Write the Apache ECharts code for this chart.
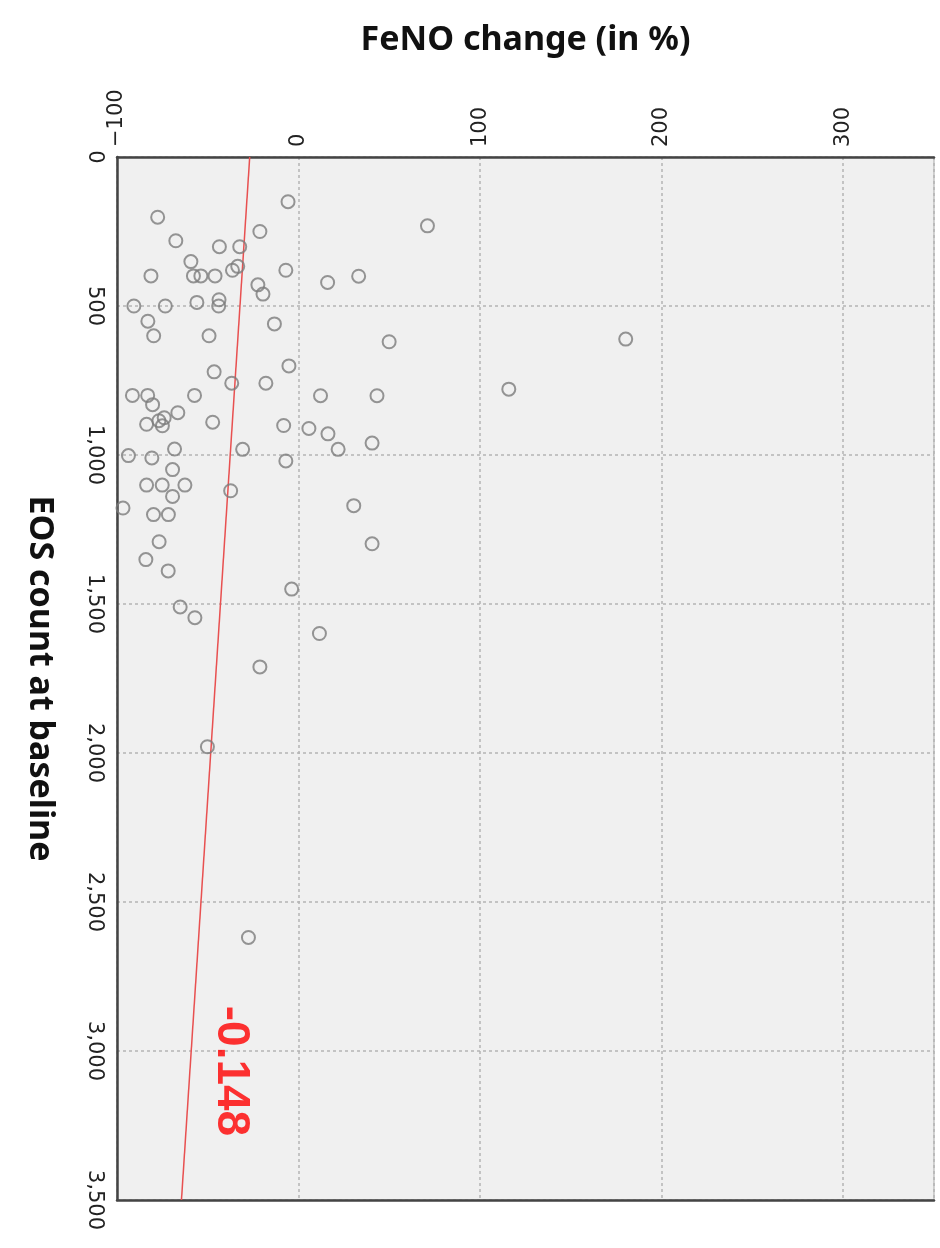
<!DOCTYPE html>
<html>
<head>
<meta charset="utf-8">
<script src="https://cdn.jsdelivr.net/npm/echarts@6/dist/echarts.min.js"></script>
<style>
  html, body { margin: 0; padding: 0; background: #ffffff; }
  #chart { width: 940px; height: 1248px; }
</style>
</head>
<body>
<div id="chart"></div>
<script>
// Baseline eosinophil count per patient (cells/µL)
const eosCount = [150, 202, 281, 250, 301, 301, 351, 399, 399, 399,
  399, 380, 367, 380, 421, 400, 231, 429, 460, 500,
  500, 488, 479, 500, 551, 600, 600, 560, 620, 611,
  721, 701, 759, 759, 800, 800, 831, 800, 801, 801,
  779, 858, 875, 885, 902, 897, 890, 901, 911, 929,
  981, 960, 981, 980, 1002, 1010, 1020, 1049, 1101, 1101,
  1101, 1139, 1120, 1178, 1200, 1200, 1170, 1291, 1298, 1351,
  1389, 1450, 1510, 1546, 1599, 1711, 1979, 2619];

// FeNO change from baseline for the same patients (%)
const fenoChange = [-5.8, -77.6, -67.6, -21.3, -43.6, -32.4, -59.3, -81.3, -57.9, -53.8,
  -46.0, -36.4, -33.5, -7.0, 16.0, 33.1, 71.0, -22.4, -19.6, -90.7,
  -73.4, -56.0, -43.8, -44.0, -83.0, -79.8, -49.3, -13.3, 49.9, 180.2,
  -46.5, -5.3, -36.8, -18.0, -91.5, -83.1, -80.4, -57.3, 12.1, 43.2,
  115.8, -66.5, -74.0, -76.9, -75.0, -83.7, -47.3, -8.2, 5.7, 16.2,
  21.8, 40.5, -30.8, -68.3, -93.7, -80.8, -7.0, -69.4, -83.7, -75.1,
  -62.6, -69.4, -37.4, -96.7, -79.9, -71.7, 30.4, -76.8, 40.5, -84.1,
  -71.8, -3.8, -65.2, -57.1, 11.5, -21.3, -50.2, -27.6];

// Fitted line endpoints: [FeNO change, EOS count]
const fitLine = [[-26.9, 0], [-64.5, 3500]];

// Correlation coefficient and where it is written
const correlationText = '-0.148';
const correlationAt = [-37.4, 3067];

const fenoTicks = [-100, 0, 100, 200, 300];
const eosTicks = [0, 500, 1000, 1500, 2000, 2500, 3000, 3500];

const points = eosCount.map((e, i) => [fenoChange[i], e]);

const chart = echarts.init(document.getElementById('chart'), null, { renderer: 'canvas' });

const tickFont = { fontFamily: 'DejaVu Sans', fontSize: 21, color: '#222' };
const gridLine = { show: true, lineStyle: { color: '#b4b4b4', width: 1.5, type: [3, 3] } };
const frameLine = { show: true, onZero: false, lineStyle: { color: '#444', width: 2.5 } };
const titleFont = { fontFamily: 'Noto Sans', fontWeight: 'bold', fontSize: 34, color: '#111' };

chart.setOption({
  animation: false,
  backgroundColor: '#ffffff',
  grid: {
    left: 117, top: 157, right: 6, bottom: 48,
    show: true, backgroundColor: '#f0f0f0',
    borderColor: '#a8a8a8', borderWidth: 1
  },
  xAxis: [{
    type: 'value',
    position: 'top',
    min: -100, max: 350, interval: 100,
    name: 'FeNO change (in %)',
    nameLocation: 'middle',
    nameGap: 100,
    nameTextStyle: titleFont,
    axisLine: frameLine,
    axisTick: { show: false },
    splitLine: gridLine,
    axisLabel: Object.assign({
      rotate: -90, margin: 10, showMaxLabel: false,
      formatter: v => fenoTicks.includes(v) ? String(v).replace('-', '\u2212') : ''
    }, tickFont)
  }, {
    // bottom frame edge
    type: 'value',
    position: 'bottom',
    min: -100, max: 350,
    axisLine: frameLine,
    axisTick: { show: false },
    axisLabel: { show: false },
    splitLine: { show: false }
  }],
  yAxis: {
    type: 'value',
    inverse: true,
    min: 0, max: 3500, interval: 500,
    name: 'EOS count at baseline',
    nameLocation: 'middle',
    nameGap: 60,
    nameRotate: -90,
    nameTextStyle: titleFont,
    axisLine: frameLine,
    axisTick: { show: false },
    splitLine: gridLine,
    axisLabel: Object.assign({
      rotate: -90, margin: 12,
      formatter: v => eosTicks.includes(v) ? v.toLocaleString('en-US') : ''
    }, tickFont)
  },
  series: [{
    type: 'scatter',
    data: points,
    symbol: 'circle',
    symbolSize: 13,
    itemStyle: { color: 'rgba(0,0,0,0)', borderColor: '#7c7c7c', borderWidth: 2 },
    z: 3
  }, {
    type: 'line',
    data: fitLine,
    symbol: 'none',
    lineStyle: { color: '#e85050', width: 1.5 },
    z: 2
  }, {
    type: 'scatter',
    data: [correlationAt],
    symbolSize: 0,
    silent: true,
    label: {
      show: true,
      position: 'inside',
      rotate: -90,
      formatter: correlationText,
      fontFamily: 'Liberation Sans',
      fontWeight: 'bold',
      fontSize: 46,
      color: '#ff0000'
    },
    z: 4
  }]
});
</script>
</body>
</html>
